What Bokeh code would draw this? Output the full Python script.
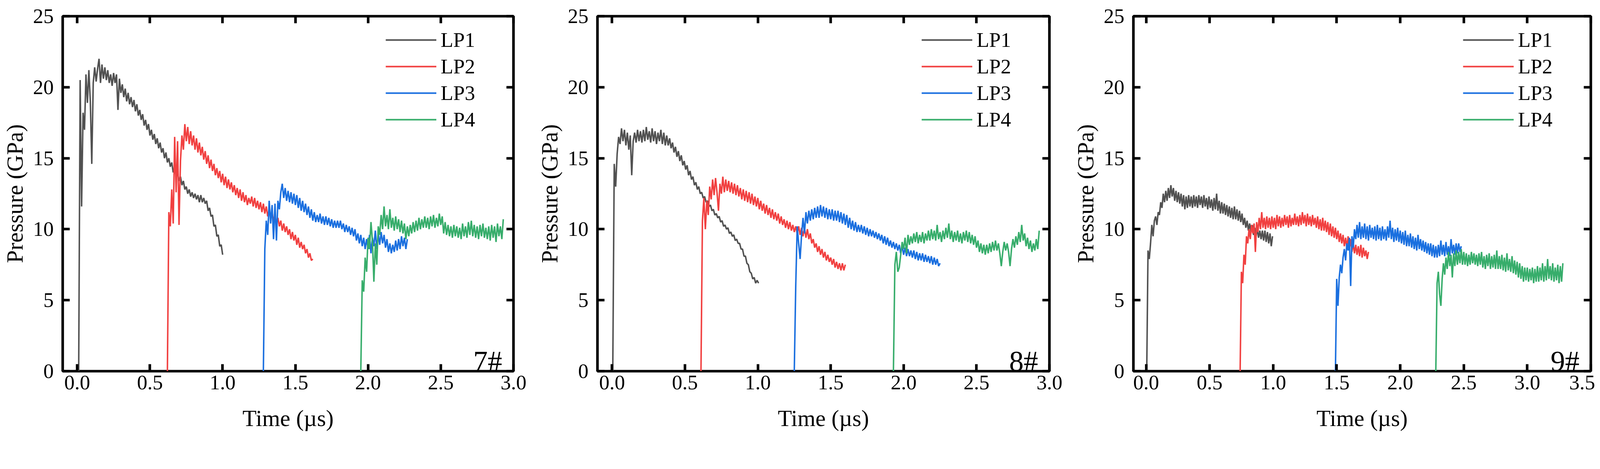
from bokeh.plotting import figure
from bokeh.models import (Range1d, FixedTicker, NumeralTickFormatter, LinearAxis,
                          Legend, LegendItem, Label, CustomJSTickFormatter)
from bokeh.layouts import row
from bokeh.embed import file_html
from bokeh.resources import INLINE

FONT = "Liberation Serif"
COLORS = ["#515151", "#F14040", "#1A6FDF", "#37AD6B"]
NAMES = ["LP1", "LP2", "LP3", "LP4"]
X_TICKS_A = [0.0, 0.5, 1.0, 1.5, 2.0, 2.5, 3.0]
X_TICKS_B = [0.0, 0.5, 1.0, 1.5, 2.0, 2.5, 3.0, 3.5]
Y_TICKS = [0, 5, 10, 15, 20, 25]
DT = 0.01
S = 0.948  # overall size factor

# ---------------- 7# ----------------
t0_7 = [0.01, 0.62, 1.28, 1.95]
lp1_7 = [0, 20.5, 11.6, 18.2, 17.0, 20.9, 18.9, 21.2, 19.0, 14.6, 20.3, 21.4, 20.4, 21.3, 22.0,
         20.3, 21.6, 20.6, 21.4, 20.5, 21.2, 20.3, 20.9, 20.1, 21.0, 20.3, 20.9, 18.4, 20.6, 19.6,
         20.2, 19.3, 19.9, 19.0, 19.6, 18.8, 19.3, 18.6, 19.1, 18.3, 18.8, 18.0, 18.4, 17.7, 18.1,
         17.3, 17.7, 17.0, 17.4, 16.6, 17.0, 16.3, 16.7, 16.0, 16.4, 15.7, 16.1, 15.4, 15.7, 15.0,
         15.4, 14.7, 15.0, 14.4, 14.7, 14.0, 14.3, 13.7, 14.0, 13.4, 13.7, 13.1, 13.4, 12.8, 13.0,
         12.5, 12.8, 12.3, 12.6, 12.2, 12.5, 12.1, 12.4, 11.9, 12.4, 11.9, 12.2, 11.8, 12.0, 11.3,
         11.5, 10.9, 11.0, 10.2, 10.3, 9.5, 9.6, 8.8, 8.9, 8.2]
lp2_7 = [0, 11.2, 10.2, 12.8, 10.4, 16.5, 12.6, 16.2, 10.3, 14.8, 16.6, 15.6, 17.4, 16.2, 17.2,
         16.0, 16.9, 15.9, 16.6, 15.6, 16.4, 15.4, 16.1, 15.2, 15.8, 14.9, 15.5, 14.6, 15.2, 14.3,
         14.9, 14.1, 14.6, 13.8, 14.3, 13.6, 14.1, 13.3, 13.9, 13.1, 13.7, 12.9, 13.5, 12.8, 13.3,
         12.6, 13.1, 12.4, 12.9, 12.2, 12.8, 12.0, 12.6, 11.9, 12.4, 11.7, 12.2, 11.8, 12.3, 11.6,
         12.2, 11.5, 12.0, 11.4, 11.9, 11.2, 11.8, 11.1, 11.6, 10.9, 11.4, 10.7, 11.2, 10.6, 11.0,
         10.3, 10.8, 10.2, 10.6, 9.9, 10.4, 9.8, 10.2, 9.6, 10.0, 9.3, 9.8, 9.2, 9.6, 8.9,
         9.4, 8.7, 9.1, 8.6, 8.9, 8.3, 8.6, 8.0, 8.3, 7.8, 7.9]
lp3_7 = [0, 8.6, 10.6, 9.6, 12.0, 10.4, 11.7, 9.3, 11.8, 9.2, 12.0, 11.4, 12.6, 13.2, 12.2,
         12.9, 12.0, 12.7, 11.9, 12.6, 11.8, 12.5, 11.7, 12.4, 11.5, 12.2, 11.3, 12.0, 11.2, 11.8,
         11.0, 11.6, 10.8, 11.4, 10.6, 11.2, 10.5, 11.0, 10.5, 11.1, 10.4, 10.9, 10.3, 10.9, 10.3,
         10.8, 10.2, 10.7, 10.1, 10.6, 10.1, 10.6, 10.1, 10.6, 10.0, 10.4, 9.8, 10.3, 9.8, 10.2,
         9.6, 10.1, 9.5, 10.0, 9.2, 9.7, 9.0, 9.6, 8.8, 9.4, 8.6, 9.3, 8.6, 9.6, 8.3, 9.4,
         8.8, 9.9, 8.6, 9.7, 8.9, 9.8, 9.0, 9.6, 8.7, 9.3, 8.4, 9.0, 8.3, 8.9, 8.4, 9.2,
         8.5, 9.3, 8.6, 9.5, 8.8, 9.4, 8.6, 9.3]
lp4_7 = [0, 6.4, 5.6, 8.0, 7.0, 9.4, 8.6, 10.5, 9.2, 6.3, 9.0, 7.5, 10.2, 9.6, 11.0,
         10.0, 11.6, 10.2, 11.0, 10.0, 11.4, 10.1, 10.8, 9.9, 10.9, 10.0, 10.7, 9.8, 10.6, 9.7,
         10.4, 9.3, 10.2, 9.5, 10.3, 9.7, 10.5, 9.8, 10.6, 9.9, 10.8, 10.0, 10.7, 10.1, 10.9,
         10.1, 10.8, 10.0, 10.9, 10.2, 11.0, 10.1, 10.8, 10.2, 11.1, 10.3, 10.9, 9.7, 10.5, 9.6,
         10.3, 9.5, 10.2, 9.4, 10.3, 9.5, 10.2, 9.4, 10.1, 9.3, 10.4, 9.5, 10.2, 9.4, 10.5,
         9.6, 10.6, 9.5, 10.3, 9.4, 10.2, 9.3, 10.3, 9.5, 10.4, 9.4, 10.1, 9.3, 10.2, 9.2,
         10.3, 9.4, 10.2, 9.1, 10.4, 9.5, 10.2, 9.3, 10.7]

# ---------------- 8# ----------------
t0_8 = [0.005, 0.61, 1.25, 1.93]
lp1_8 = [0, 14.6, 13.0, 15.3, 16.5, 16.0, 17.1, 16.2, 17.0, 15.9, 16.8, 15.6, 16.6, 13.8, 16.2,
         16.8, 16.1, 17.0, 16.2, 16.9, 16.1, 17.0, 16.2, 17.2, 16.3, 16.9, 16.1, 17.1, 16.2, 16.9,
         16.0, 16.8, 16.2, 17.0, 16.0, 16.8, 15.9, 16.6, 15.9, 16.4, 15.7, 16.1, 15.4, 15.8, 15.1,
         15.5, 14.8, 15.2, 14.5, 14.8, 14.2, 14.5, 13.8, 14.1, 13.5, 13.7, 13.1, 13.3, 12.8, 13.0,
         12.5, 12.6, 12.2, 12.3, 11.9, 12.0, 11.6, 11.7, 11.3, 11.4, 11.0, 11.1, 10.8, 10.9, 10.5,
         10.6, 10.2, 10.3, 10.0, 10.1, 9.7, 9.8, 9.5, 9.6, 9.2, 9.3, 9.0, 9.0, 8.6, 8.6,
         8.1, 8.1, 7.6, 7.5, 7.0, 6.9, 6.5, 6.6, 6.2, 6.4, 6.2]
lp2_8 = [0, 10.6, 12.2, 10.0, 12.0, 11.0, 13.0, 12.1, 13.5, 12.4, 13.6, 12.6, 11.3, 13.2, 12.5,
         13.7, 12.6, 13.5, 12.7, 13.4, 12.6, 13.3, 12.5, 13.2, 12.4, 13.1, 12.3, 12.9, 12.1, 12.8,
         12.0, 12.7, 11.9, 12.6, 11.8, 12.5, 11.7, 12.3, 11.6, 12.2, 11.4, 12.0, 11.3, 11.8, 11.1,
         11.7, 11.0, 11.5, 10.8, 11.4, 10.7, 11.2, 10.6, 11.1, 10.4, 10.9, 10.3, 10.7, 10.1, 10.6,
         10.0, 10.5, 9.9, 10.3, 9.8, 10.2, 9.7, 10.2, 9.6, 10.1, 9.5, 10.1, 9.4, 10.0, 9.3,
         9.7, 9.0, 9.3, 8.7, 9.0, 8.4, 8.8, 8.2, 8.6, 8.0, 8.4, 7.8, 8.2, 7.7, 8.0,
         7.5, 7.9, 7.3, 7.7, 7.2, 7.6, 7.1, 7.6, 7.1, 7.5]
lp3_8 = [0, 6.0, 10.2, 9.0, 7.9, 9.6, 10.8, 9.7, 11.2, 10.4, 11.3, 10.6, 11.4, 10.7, 11.5,
         10.8, 11.6, 10.8, 11.7, 10.9, 11.6, 10.8, 11.5, 10.7, 11.4, 10.7, 11.4, 10.6, 11.3, 10.6,
         11.3, 10.5, 11.2, 10.4, 11.1, 10.3, 11.0, 10.1, 10.8, 10.0, 10.6, 9.9, 10.5, 9.8, 10.3,
         9.8, 10.3, 9.7, 10.2, 9.6, 10.1, 9.5, 10.0, 9.5, 9.9, 9.4, 9.8, 9.3, 9.7, 9.2,
         9.6, 9.0, 9.5, 8.9, 9.4, 8.8, 9.2, 8.7, 9.1, 8.6, 9.0, 8.5, 8.9, 8.3, 8.8,
         8.2, 8.7, 8.1, 8.6, 8.1, 8.5, 8.0, 8.5, 7.9, 8.4, 7.8, 8.3, 7.8, 8.3, 7.7,
         8.2, 7.7, 8.1, 7.6, 8.1, 7.5, 8.0, 7.5, 7.9, 7.4, 7.6]
lp4_8 = [0, 7.5, 8.4, 7.0, 7.3, 8.2, 9.1, 8.6, 9.4, 8.3, 9.6, 8.9, 9.5, 9.0, 9.7,
         9.1, 9.8, 9.0, 9.6, 9.1, 9.8, 9.0, 9.7, 9.2, 9.9, 9.2, 10.0, 9.3, 9.9, 9.2,
         10.3, 9.3, 9.8, 9.1, 9.9, 9.3, 10.1, 9.4, 10.4, 9.3, 9.9, 9.1, 9.8, 9.2, 9.9,
         9.1, 9.7, 9.0, 9.8, 9.2, 9.9, 9.1, 9.8, 9.0, 9.6, 8.9, 9.5, 8.7, 9.2, 8.4,
         9.0, 8.3, 8.9, 8.2, 8.9, 8.3, 9.0, 8.4, 9.1, 8.5, 9.2, 8.5, 9.0, 8.3, 7.4,
         8.4, 9.1, 8.5, 9.0, 8.4, 7.4, 8.6, 9.3, 8.7, 9.5, 8.9, 9.8, 9.1, 10.3, 9.2,
         9.7, 8.8, 9.4, 8.6, 9.2, 8.4, 9.0, 8.5, 9.3, 8.6, 9.9]

# ---------------- 9# ----------------
t0_9 = [0.005, 0.74, 1.49, 2.28]
lp1_9 = [0, 8.5, 7.9, 9.0, 10.3, 9.5, 10.6, 10.9, 10.3, 11.2, 11.0, 11.9, 11.5, 12.5, 11.9,
         12.7, 12.0, 12.9, 12.2, 13.1, 12.3, 12.9, 12.0, 12.7, 11.9, 12.6, 11.8, 12.5, 11.6, 12.4,
         11.4, 12.3, 11.5, 12.4, 11.6, 12.3, 11.5, 12.4, 11.6, 12.3, 11.5, 12.4, 11.7, 12.3, 11.5,
         12.4, 11.6, 12.2, 11.4, 12.3, 11.5, 12.1, 11.3, 12.2, 11.4, 12.5, 11.3, 12.0, 11.1, 11.9,
         11.1, 11.8, 11.0, 11.7, 10.9, 11.6, 10.8, 11.5, 10.7, 11.6, 10.7, 11.4, 10.6, 11.3, 10.5,
         11.1, 10.3, 10.8, 10.1, 10.6, 9.9, 10.4, 9.8, 10.3, 9.6, 10.1, 9.5, 10.0, 9.4, 9.9,
         9.3, 9.9, 9.2, 9.9, 9.1, 9.8, 9.0, 9.7, 8.8, 9.5]
lp2_9 = [0, 7.0, 6.2, 8.2, 7.5, 9.5, 9.0, 10.0, 9.3, 10.3, 9.7, 10.4, 8.4, 10.5, 9.8,
         10.8, 10.0, 11.2, 10.1, 10.8, 10.0, 10.9, 10.1, 10.8, 10.0, 10.9, 10.1, 10.8, 10.0, 11.0,
         10.2, 10.9, 10.1, 10.8, 10.2, 11.0, 10.3, 10.9, 10.1, 11.0, 10.2, 10.8, 10.3, 11.1, 10.3,
         10.9, 10.2, 11.0, 10.3, 11.2, 10.4, 11.0, 10.2, 11.1, 10.3, 10.9, 10.2, 11.0, 10.3, 10.8,
         10.1, 10.9, 10.0, 10.7, 9.9, 10.8, 9.9, 10.6, 9.8, 10.5, 9.6, 10.4, 9.5, 10.2, 9.4,
         10.1, 9.3, 9.9, 9.1, 9.7, 9.0, 9.6, 8.8, 9.4, 8.7, 9.5, 8.6, 9.3, 8.4, 9.0,
         8.3, 8.9, 8.2, 8.8, 8.1, 8.9, 8.0, 8.7, 8.1, 8.5, 7.9, 8.4]
lp3_9 = [0, 6.5, 4.6, 6.6, 7.5, 6.9, 8.0, 8.6, 7.8, 9.0, 8.5, 9.4, 6.0, 9.5, 8.7,
         10.0, 9.3, 10.3, 9.4, 10.5, 9.3, 10.2, 9.4, 10.4, 9.3, 10.2, 9.2, 10.3, 9.4, 10.1,
         9.3, 10.2, 9.2, 10.3, 9.3, 10.1, 9.2, 10.2, 9.3, 10.0, 9.2, 10.2, 9.4, 10.6, 9.3,
         10.1, 9.1, 10.0, 9.2, 10.1, 9.1, 9.9, 9.0, 9.8, 8.9, 9.9, 8.8, 9.6, 8.8, 9.7,
         8.7, 9.5, 8.6, 9.4, 8.5, 9.6, 8.6, 9.3, 8.5, 9.2, 8.4, 9.1, 8.3, 9.0, 8.2,
         9.0, 8.1, 8.9, 8.0, 8.8, 8.0, 8.9, 8.1, 9.2, 8.2, 8.9, 8.1, 9.1, 8.2, 8.8,
         8.1, 9.3, 8.3, 8.9, 8.2, 9.0, 8.3, 9.0, 8.4, 8.8]
lp4_9 = [0, 6.2, 7.0, 5.4, 4.6, 6.5, 7.6, 6.8, 8.0, 7.2, 8.4, 7.4, 8.2, 6.6, 8.3,
         7.4, 8.5, 7.5, 8.4, 7.6, 8.6, 7.5, 8.4, 7.5, 8.3, 7.4, 8.2, 7.5, 8.4, 7.6,
         8.3, 7.5, 8.2, 7.4, 8.3, 7.5, 8.4, 7.3, 8.1, 7.2, 8.2, 7.4, 8.3, 7.2, 8.1,
         7.3, 8.2, 7.2, 8.5, 7.2, 8.1, 7.2, 8.2, 7.1, 8.0, 7.0, 8.3, 7.1, 7.9, 7.0,
         8.1, 6.9, 7.8, 6.8, 7.7, 6.6, 7.6, 6.5, 7.4, 6.3, 7.3, 6.4, 7.3, 6.3, 7.2,
         6.4, 7.3, 6.2, 7.2, 6.3, 7.4, 6.3, 7.3, 6.4, 7.6, 6.3, 7.4, 6.4, 7.9, 6.5,
         7.4, 6.4, 7.6, 6.3, 7.3, 6.4, 7.5, 6.2, 7.4, 6.3, 7.6]


def px(v):
    return int(round(v * S))


def make_panel(t0s, series, x_end, x_ticks, tag, width, border_r):
    left, top, bottom, height = px(169), px(43), px(183), px(1185)
    width, border_r = px(width), px(border_r)
    frame_w = width - left - border_r
    frame_h = height - top - bottom
    p = figure(width=width, height=height,
               min_border_left=left, min_border_right=border_r,
               min_border_top=top, min_border_bottom=bottom,
               x_range=Range1d(-0.1, x_end), y_range=Range1d(0, 25),
               output_backend="svg", toolbar_location=None,
               background_fill_color="white", border_fill_color="white")
    p.xgrid.visible = False
    p.ygrid.visible = False
    p.outline_line_color = "black"
    p.outline_line_width = 7 * S
    p.outline_line_alpha = 1.0

    renderers = []
    for t0, vals, col in zip(t0s, series, COLORS):
        ts = [t0 + DT * i for i in range(len(vals))]
        r = p.line(ts, vals, line_color=col, line_width=4 * S)
        renderers.append(r)

    for ax in (p.xaxis[0], p.yaxis[0]):
        ax.axis_line_color = None
        ax.major_tick_in = px(19)
        ax.major_tick_out = 0
        ax.major_tick_line_width = 7 * S
        ax.major_tick_line_color = "black"
        ax.minor_tick_line_color = None
        ax.major_label_text_font = FONT
        ax.major_label_text_font_size = f"{px(56)}px"
        ax.major_label_text_color = "black"
        ax.axis_label_text_font = FONT
        ax.axis_label_text_font_size = f"{px(62)}px"
        ax.axis_label_text_font_style = "normal"
        ax.axis_label_text_color = "black"

    p.xaxis[0].ticker = FixedTicker(ticks=x_ticks)
    p.xaxis[0].formatter = NumeralTickFormatter(format="0.0")
    p.xaxis[0].axis_label = "Time (µs)"
    p.xaxis[0].major_label_standoff = px(12)
    p.xaxis[0].axis_label_standoff = px(40)
    p.yaxis[0].ticker = FixedTicker(ticks=Y_TICKS)
    p.yaxis[0].formatter = NumeralTickFormatter(format="0")
    p.yaxis[0].axis_label = "Pressure (GPa)"
    p.yaxis[0].major_label_standoff = px(24)
    p.yaxis[0].axis_label_standoff = px(12)

    blank = CustomJSTickFormatter(code="return ''")
    for side, ticks in (("above", x_ticks), ("right", Y_TICKS)):
        ax = LinearAxis(ticker=FixedTicker(ticks=ticks), formatter=blank)
        ax.axis_line_color = None
        ax.major_tick_in = px(19)
        ax.major_tick_out = 0
        ax.major_tick_line_width = 7 * S
        ax.major_tick_line_color = "black"
        ax.minor_tick_line_color = None
        ax.major_label_text_font_size = "0px"
        ax.major_label_standoff = 0
        p.add_layout(ax, side)

    legend = Legend(items=[LegendItem(label=n, renderers=[r]) for n, r in zip(NAMES, renderers)],
                    location=(frame_w - px(345), frame_h - px(315)), orientation="vertical",
                    glyph_width=px(137), glyph_height=px(72), spacing=0, padding=0, margin=0,
                    label_standoff=px(12), label_text_font=FONT,
                    label_text_font_size=f"{px(56)}px",
                    label_text_color="black", border_line_color=None,
                    background_fill_alpha=0.0, label_height=px(72))
    p.add_layout(legend, "center")

    px_per_x = frame_w / (x_end + 0.1)
    lab = Label(x=x_end - px(31) / px_per_x, y=px(27) / (frame_h / 25), text=tag,
                text_align="right", text_baseline="alphabetic", text_font=FONT,
                text_font_size=f"{px(78)}px", text_color="black")
    p.add_layout(lab)
    return p


f1 = make_panel(t0_7, [lp1_7, lp2_7, lp3_7, lp4_7], 3.0, X_TICKS_A, "7#", 1444, 58)
f2 = make_panel(t0_8, [lp1_8, lp2_8, lp3_8, lp4_8], 3.0, X_TICKS_A, "8#", 1447, 58)
f3 = make_panel(t0_9, [lp1_9, lp2_9, lp3_9, lp4_9], 3.5, X_TICKS_B, "9#", 1416, 12)

layout = row(f1, f2, f3)
open("out.html", "w").write(file_html(layout, INLINE))
